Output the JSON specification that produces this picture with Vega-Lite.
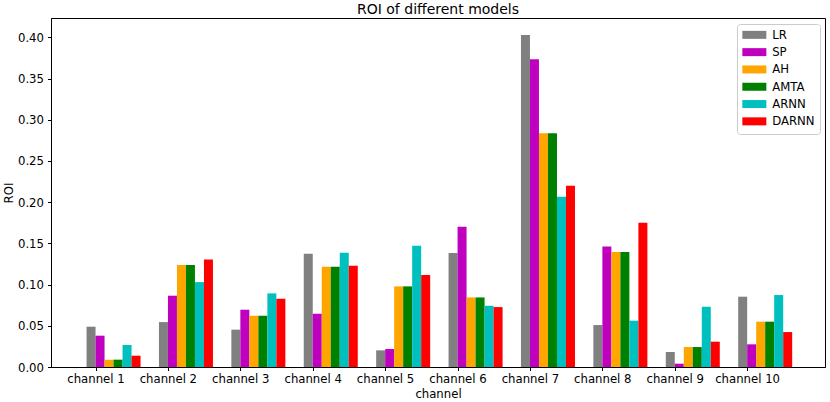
{
  "$schema": "https://vega.github.io/schema/vega-lite/v6.json",
  "description": "ROI of different models per channel",
  "width": 774,
  "height": 349,
  "autosize": {"type": "none"},
  "padding": {"left": 51, "top": 18, "right": 5, "bottom": 35},
  "title": {
    "text": "ROI of different models",
    "fontSize": 14,
    "fontWeight": "normal",
    "color": "black",
    "anchor": "middle",
    "baseline": "bottom",
    "offset": 3,
    "dy": 16
  },
  "data": {
    "values": [
      {"channel": "channel 1", "model": "LR", "roi": 0.0489},
      {"channel": "channel 1", "model": "SP", "roi": 0.038},
      {"channel": "channel 1", "model": "AH", "roi": 0.0089},
      {"channel": "channel 1", "model": "AMTA", "roi": 0.0089},
      {"channel": "channel 1", "model": "ARNN", "roi": 0.0267},
      {"channel": "channel 1", "model": "DARNN", "roi": 0.0137},
      {"channel": "channel 2", "model": "LR", "roi": 0.0545},
      {"channel": "channel 2", "model": "SP", "roi": 0.0865},
      {"channel": "channel 2", "model": "AH", "roi": 0.1236},
      {"channel": "channel 2", "model": "AMTA", "roi": 0.1236},
      {"channel": "channel 2", "model": "ARNN", "roi": 0.103},
      {"channel": "channel 2", "model": "DARNN", "roi": 0.1305},
      {"channel": "channel 3", "model": "LR", "roi": 0.0453},
      {"channel": "channel 3", "model": "SP", "roi": 0.0695},
      {"channel": "channel 3", "model": "AH", "roi": 0.0622},
      {"channel": "channel 3", "model": "AMTA", "roi": 0.0622},
      {"channel": "channel 3", "model": "ARNN", "roi": 0.0893},
      {"channel": "channel 3", "model": "DARNN", "roi": 0.0828},
      {"channel": "channel 4", "model": "LR", "roi": 0.1374},
      {"channel": "channel 4", "model": "SP", "roi": 0.0646},
      {"channel": "channel 4", "model": "AH", "roi": 0.1216},
      {"channel": "channel 4", "model": "AMTA", "roi": 0.1216},
      {"channel": "channel 4", "model": "ARNN", "roi": 0.1386},
      {"channel": "channel 4", "model": "DARNN", "roi": 0.1228},
      {"channel": "channel 5", "model": "LR", "roi": 0.0202},
      {"channel": "channel 5", "model": "SP", "roi": 0.0218},
      {"channel": "channel 5", "model": "AH", "roi": 0.0978},
      {"channel": "channel 5", "model": "AMTA", "roi": 0.0978},
      {"channel": "channel 5", "model": "ARNN", "roi": 0.147},
      {"channel": "channel 5", "model": "DARNN", "roi": 0.1115},
      {"channel": "channel 6", "model": "LR", "roi": 0.1382},
      {"channel": "channel 6", "model": "SP", "roi": 0.170},
      {"channel": "channel 6", "model": "AH", "roi": 0.0844},
      {"channel": "channel 6", "model": "AMTA", "roi": 0.0844},
      {"channel": "channel 6", "model": "ARNN", "roi": 0.0743},
      {"channel": "channel 6", "model": "DARNN", "roi": 0.0727},
      {"channel": "channel 7", "model": "LR", "roi": 0.4028},
      {"channel": "channel 7", "model": "SP", "roi": 0.3733},
      {"channel": "channel 7", "model": "AH", "roi": 0.2836},
      {"channel": "channel 7", "model": "AMTA", "roi": 0.2836},
      {"channel": "channel 7", "model": "ARNN", "roi": 0.2065},
      {"channel": "channel 7", "model": "DARNN", "roi": 0.2198},
      {"channel": "channel 8", "model": "LR", "roi": 0.0509},
      {"channel": "channel 8", "model": "SP", "roi": 0.1463},
      {"channel": "channel 8", "model": "AH", "roi": 0.1394},
      {"channel": "channel 8", "model": "AMTA", "roi": 0.1394},
      {"channel": "channel 8", "model": "ARNN", "roi": 0.0562},
      {"channel": "channel 8", "model": "DARNN", "roi": 0.175},
      {"channel": "channel 9", "model": "LR", "roi": 0.0182},
      {"channel": "channel 9", "model": "SP", "roi": 0.004},
      {"channel": "channel 9", "model": "AH", "roi": 0.0242},
      {"channel": "channel 9", "model": "AMTA", "roi": 0.0242},
      {"channel": "channel 9", "model": "ARNN", "roi": 0.0731},
      {"channel": "channel 9", "model": "DARNN", "roi": 0.0307},
      {"channel": "channel 10", "model": "LR", "roi": 0.0853},
      {"channel": "channel 10", "model": "SP", "roi": 0.0275},
      {"channel": "channel 10", "model": "AH", "roi": 0.055},
      {"channel": "channel 10", "model": "AMTA", "roi": 0.055},
      {"channel": "channel 10", "model": "ARNN", "roi": 0.0873},
      {"channel": "channel 10", "model": "DARNN", "roi": 0.0424}
    ]
  },
  "mark": {"type": "bar"},
  "encoding": {
    "x": {
      "field": "channel",
      "type": "nominal",
      "sort": ["channel 1", "channel 2", "channel 3", "channel 4", "channel 5", "channel 6", "channel 7", "channel 8", "channel 9", "channel 10"],
      "scale": {"paddingInner": 0.254, "paddingOuter": 0.472, "align": 0.52},
      "axis": {
        "title": "channel",
        "labelAngle": 0,
        "tickOffset": -18,
        "labelOffset": -0.1,
        "tickSize": 3.5,
        "tickColor": "black",
        "domainColor": "black",
        "labelColor": "black",
        "labelFontSize": 11.7,
        "labelPadding": 3,
        "titleFontSize": 11.7,
        "titleFontWeight": "normal",
        "titleColor": "black",
        "titlePadding": 3,
        "grid": false
      }
    },
    "xOffset": {
      "field": "model",
      "type": "nominal",
      "sort": ["LR", "SP", "AH", "AMTA", "ARNN", "DARNN"],
      "scale": {"paddingInner": 0, "paddingOuter": 0}
    },
    "y": {
      "field": "roi",
      "type": "quantitative",
      "scale": {"domain": [0, 0.4234], "nice": false},
      "axis": {
        "title": "ROI",
        "values": [0, 0.05, 0.1, 0.15, 0.2, 0.25, 0.3, 0.35, 0.4],
        "format": ".2f",
        "tickSize": 3.5,
        "tickColor": "black",
        "domainColor": "black",
        "labelColor": "black",
        "labelFontSize": 11.7,
        "labelPadding": 4,
        "titleFontSize": 11.7,
        "titleFontWeight": "normal",
        "titleColor": "black",
        "titlePadding": 3,
        "grid": false
      }
    },
    "color": {
      "field": "model",
      "type": "nominal",
      "scale": {
        "domain": ["LR", "SP", "AH", "AMTA", "ARNN", "DARNN"],
        "range": ["#808080", "#bf00bf", "#ffa500", "#008000", "#00bfbf", "#ff0000"]
      },
      "legend": {
        "title": null,
        "orient": "none",
        "legendX": 686,
        "legendY": 6,
        "padding": 5,
        "strokeColor": "#cccccc",
        "fillColor": "white",
        "cornerRadius": 3,
        "symbolType": "M-3,-1H3V1H-3Z",
        "symbolSize": 64,
        "symbolStrokeWidth": 0,
        "symbolOpacity": 1,
        "symbolOffset": 6.5,
        "labelOffset": 12,
        "labelFontSize": 11.7,
        "labelColor": "black",
        "rowPadding": 4.3
      }
    }
  },
  "config": {
    "font": "DejaVu Sans",
    "view": {"stroke": "black", "strokeWidth": 1}
  }
}
